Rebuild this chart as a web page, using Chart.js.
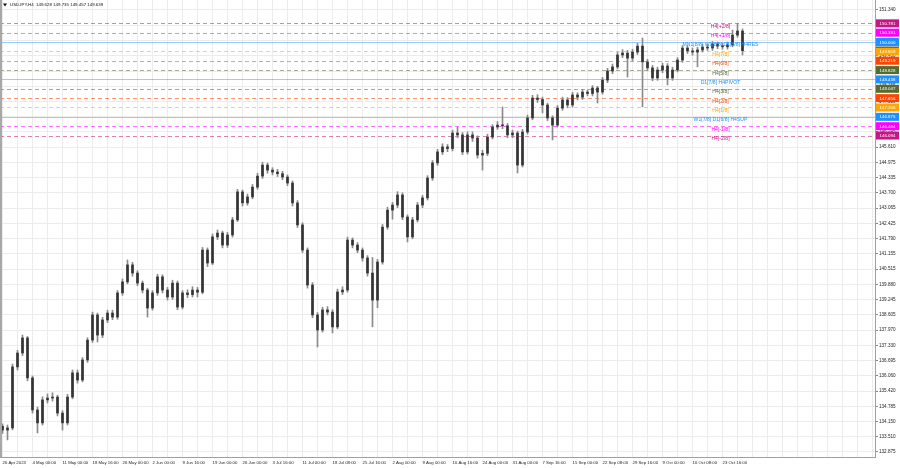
<!DOCTYPE html>
<html>
<head>
<meta charset="utf-8">
<script src="https://cdn.jsdelivr.net/npm/chart.js@4"></script>
<style>
html, body { margin: 0; padding: 0; background: #fff; }
canvas { display: block; }
</style>
</head>
<body>
<canvas id="chart" width="900" height="468"></canvas>
<script>
// USDJPY H4, 26 Apr - 27 Oct 2023 (one bar per ~5 px)
const symbol = "USDJPY,H4";
const lastBar = [149.628, 149.735, 149.457, 149.639];
const bidPrice = 149.639;

const opens = [
    133.95,133.79,133.88,136.43,137.01,137.64,135.97,134.63,134.09,135.05,
    135.13,135.17,134.50,134.09,135.17,136.18,135.88,136.72,137.55,138.60,
    137.76,138.39,138.68,138.51,139.52,139.98,140.69,140.35,139.93,139.64,
    138.89,139.52,140.19,139.64,139.35,139.93,138.93,139.52,139.45,139.64,
    139.55,141.31,140.77,141.86,142.02,141.52,141.94,142.57,143.74,143.28,
    143.53,143.94,144.40,144.86,144.65,144.57,144.50,144.36,144.11,143.28,
    142.36,141.31,139.85,138.60,137.97,138.81,138.72,138.10,139.56,139.64,
    141.73,141.52,141.31,140.98,140.35,139.22,140.81,142.27,142.98,143.19,
    143.61,142.69,141.86,142.57,143.19,143.49,144.32,144.95,145.41,145.62,
    145.55,146.20,146.12,145.41,146.12,145.99,145.28,145.35,146.03,146.45,
    146.53,146.50,146.12,146.20,144.86,146.24,146.83,147.66,147.60,147.37,
    146.83,146.53,147.24,147.58,147.37,147.79,147.70,147.91,147.85,148.08,
    147.91,148.41,148.79,148.96,149.46,149.54,149.33,149.58,149.83,149.17,
    148.92,148.50,148.83,149.00,148.50,148.83,149.25,149.75,149.63,149.58,
    149.67,149.79,149.75,149.92,149.83,149.80,149.88,150.29,150.46
];
const highs = [
    134.05,134.00,136.55,137.12,137.76,137.70,136.05,134.75,135.18,135.30,
    135.35,135.25,134.60,135.28,136.30,136.30,136.82,137.65,138.72,138.68,
    138.50,138.80,138.80,139.62,140.10,140.90,140.80,140.45,140.02,139.72,
    139.62,140.30,140.28,139.75,140.05,140.02,139.62,139.65,139.78,139.75,
    141.42,141.40,141.98,142.15,142.10,142.05,142.68,143.85,143.82,143.65,
    144.05,144.52,144.98,144.95,144.75,144.68,144.60,144.45,144.20,143.38,
    142.45,141.40,139.95,138.70,138.92,138.95,138.82,139.68,139.78,141.85,
    141.82,141.62,141.40,141.08,141.00,140.92,142.38,143.10,143.30,143.75,
    143.70,142.78,142.68,143.30,143.60,144.42,145.05,145.52,145.75,145.72,
    146.32,146.45,146.22,146.25,146.25,146.08,145.48,146.15,146.55,146.68,
    147.29,146.60,146.32,146.28,146.35,146.95,147.78,147.80,147.70,147.45,
    146.92,147.35,147.70,147.68,147.90,147.88,148.02,148.00,148.18,148.15,
    148.52,148.90,149.08,149.58,149.68,149.65,149.70,149.95,150.17,149.28,
    149.02,148.95,149.12,149.10,148.95,149.35,149.85,149.85,149.75,149.78,
    149.90,149.90,150.02,150.00,149.95,150.00,150.50,150.78,150.55
];
const lows = [
    133.65,133.38,133.80,136.30,136.90,135.85,134.50,133.67,134.00,134.92,
    135.00,134.38,133.79,134.00,135.10,135.75,135.80,136.62,137.45,137.47,
    137.65,138.28,138.40,138.42,139.42,139.90,140.22,139.82,139.52,138.51,
    138.80,139.42,139.52,139.22,139.25,138.82,138.85,139.32,139.35,139.35,
    139.48,140.62,140.70,141.75,141.40,141.42,141.85,142.50,143.15,143.18,
    143.45,143.85,144.30,144.52,144.45,144.38,144.25,144.00,143.15,142.25,
    141.20,139.72,138.48,137.26,137.88,138.60,137.85,138.02,139.45,139.55,
    141.40,141.20,140.85,140.22,138.10,138.90,140.72,142.18,142.60,143.08,
    142.58,141.65,141.78,142.48,143.08,143.40,144.22,144.85,145.30,145.42,
    145.45,146.00,145.30,145.32,145.85,145.15,144.65,145.25,145.95,146.35,
    146.38,146.00,146.00,144.53,144.78,146.15,146.75,147.48,147.04,146.72,
    145.91,146.45,147.15,147.25,147.28,147.58,147.60,147.75,147.75,147.45,
    147.82,148.30,148.68,148.88,149.35,148.54,149.22,149.48,147.29,148.80,
    148.38,148.40,148.72,148.21,148.40,148.75,149.15,149.52,149.45,148.96,
    149.58,149.65,149.65,149.72,149.70,149.70,149.80,150.20,149.46
];
const closes = [
    133.79,133.88,136.43,137.01,137.64,135.97,134.63,134.09,135.05,135.13,
    135.17,134.50,134.09,135.17,136.18,135.88,136.72,137.55,138.60,137.76,
    138.39,138.68,138.51,139.52,139.98,140.69,140.35,139.93,139.64,138.89,
    139.52,140.19,139.64,139.35,139.93,138.93,139.52,139.45,139.64,139.55,
    141.31,140.77,141.86,142.02,141.52,141.94,142.57,143.74,143.28,143.53,
    143.94,144.40,144.86,144.65,144.57,144.50,144.36,144.11,143.28,142.36,
    141.31,139.85,138.60,137.97,138.81,138.72,138.10,139.56,139.64,141.73,
    141.52,141.31,140.98,140.35,139.22,140.81,142.27,142.98,143.19,143.61,
    142.69,141.86,142.57,143.19,143.49,144.32,144.95,145.41,145.62,145.55,
    146.20,146.12,145.41,146.12,145.99,145.28,145.35,146.03,146.45,146.53,
    146.50,146.12,146.20,144.86,146.24,146.83,147.66,147.60,147.37,146.83,
    146.53,147.24,147.58,147.37,147.79,147.70,147.91,147.85,148.08,147.91,
    148.41,148.79,148.96,149.46,149.54,149.33,149.58,149.83,149.17,148.92,
    148.50,148.83,149.00,148.50,148.83,149.25,149.75,149.63,149.58,149.67,
    149.79,149.75,149.92,149.83,149.80,149.88,150.29,150.46,149.64
];

// time axis: one label every 6 bars, empty slots on the right (chart shift)
const tickLabels = [
    "26 Apr 2023", "4 May 00:00", "11 May 00:00", "18 May 16:00", "26 May 00:00",
    "2 Jun 00:00", "9 Jun 16:00", "19 Jun 00:00", "26 Jun 00:00", "3 Jul 16:00",
    "11 Jul 00:00", "18 Jul 08:00", "25 Jul 16:00", "2 Aug 00:00", "9 Aug 00:00",
    "16 Aug 16:00", "24 Aug 00:00", "31 Aug 00:00", "7 Sep 16:00", "15 Sep 00:00",
    "22 Sep 08:00", "29 Sep 16:00", "9 Oct 00:00", "16 Oct 08:00", "23 Oct 16:00"
];
const barsPerLabel = 6;
const slotCount = 175;

const priceTicks = [
    132.875, 133.510, 134.150, 134.785, 135.420, 136.060, 136.695, 137.330,
    137.970, 138.605, 139.245, 139.880, 140.515, 141.155, 141.790, 142.425,
    143.065, 143.700, 144.335, 144.975, 145.610, 146.245, 146.885, 147.520,
    148.155, 148.790, 149.430, 150.065, 150.700, 151.340
];
const priceMin = 132.666;
const priceMax = 151.756;

// Murrey levels
const levelValues = [150.781, 150.391, 150.000, 149.609, 149.219, 148.828, 148.438,
                     148.047, 147.656, 147.266, 146.875, 146.484, 146.094];
const levelNames = ["H4[+2/8]", "H4[+1/8]", "MN1[8/8] W1[8/8] D1[8/8] H4RES", "H4[7/8]",
                    "H4[6/8]", "H4[5/8]", "D1[7/8] H4PIVOT", "H4[3/8]", "H4[2/8]",
                    "H4[1/8]", "W1[7/8] D1[6/8] H4SUP", "H4[-1/8]", "H4[-2/8]"];
const levelColors = ["#c71585", "#ff00ff", "#1e90ff", "#ffa500", "#ff4500", "#556b2f", "#1e90ff",
                     "#556b2f", "#ff4500", "#ffa500", "#1e90ff", "#ff00ff", "#c71585"];
const levelSolid = [false, false, true, false, false, false, true, false, false, false, true, false, false];
const levelTextSlot = 143.6;

const FONT = "Liberation Sans, Arial, sans-serif";
Chart.defaults.font.family = FONT;

const labels = Array.from({ length: slotCount }, (_, i) =>
    i % barsPerLabel === 0 && tickLabels[i / barsPerLabel] ? tickLabels[i / barsPerLabel] : "");

function alpha(hex, a) {
    const n = parseInt(hex.slice(1), 16);
    return `rgba(${n >> 16},${(n >> 8) & 255},${n & 255},${a})`;
}

const levelsPlugin = {
    id: "levels",
    beforeDatasetsDraw(chart) {
        const { ctx, chartArea: a, scales: { y } } = chart;
        ctx.save();
        ctx.lineWidth = 1;
        levelValues.forEach((v, i) => {
            const py = Math.round(y.getPixelForValue(v)) + 0.5;
            ctx.strokeStyle = alpha(levelColors[i], levelSolid[i] ? 0.45 : 0.55);
            ctx.setLineDash(levelSolid[i] ? [] : [4, 3]);
            ctx.beginPath();
            ctx.moveTo(a.left, py);
            ctx.lineTo(a.right, py);
            ctx.stroke();
        });
        ctx.restore();
    },
    afterDatasetsDraw(chart) {
        const { ctx, scales: { x, y } } = chart;
        const tx = x.getPixelForValue(levelTextSlot);
        ctx.save();
        ctx.font = `5.1px ${FONT}`;
        ctx.textAlign = "center";
        ctx.textBaseline = "top";
        levelValues.forEach((v, i) => {
            ctx.fillStyle = levelColors[i];
            ctx.fillText(levelNames[i], tx, y.getPixelForValue(v) + 0.5);
        });
        ctx.restore();
    },
    afterDraw(chart) {
        const { ctx, chartArea: a, scales: { y } } = chart;
        ctx.save();
        // left frame
        ctx.fillStyle = "#a8a8a8";
        ctx.fillRect(a.left, a.top, 2, a.bottom - a.top);

        // price boxes on the right axis
        const box = (v, fill) => {
            const py = y.getPixelForValue(v);
            ctx.fillStyle = fill;
            ctx.fillRect(a.right + 1, py - 4, chart.width - a.right - 2, 8);
            ctx.fillStyle = "#fff";
            ctx.fillText(v.toFixed(3), (a.right + chart.width) / 2, py + 0.3);
        };
        ctx.font = `4.4px ${FONT}`;
        ctx.textAlign = "center";
        ctx.textBaseline = "middle";
        box(bidPrice, "#000");
        levelValues.forEach((v, i) => box(v, levelColors[i]));

        // symbol line
        ctx.fillStyle = "#111";
        ctx.beginPath();
        ctx.moveTo(3, 3.5);
        ctx.lineTo(7, 3.5);
        ctx.lineTo(5, 6.5);
        ctx.closePath();
        ctx.fill();
        ctx.font = `4.4px ${FONT}`;
        ctx.textAlign = "left";
        ctx.textBaseline = "middle";
        ctx.fillText(symbol + "  " + lastBar.map(v => v.toFixed(3)).join(" "), 10, 5);
        ctx.restore();
    }
};

new Chart(document.getElementById("chart"), {
    type: "bar",
    data: {
        labels,
        datasets: [{
            label: "wick",
            data: lows.map((l, i) => [l, highs[i]]),
            backgroundColor: "#8a8a8a",
            barThickness: 1,
            grouped: false,
            order: 2
        }, {
            label: "body",
            data: opens.map((o, i) => [o, closes[i]]),
            backgroundColor: "#333",
            barThickness: 2,
            minBarLength: 1,
            grouped: false,
            order: 1
        }]
    },
    options: {
        responsive: false,
        animation: false,
        events: [],
        layout: { padding: 0 },
        plugins: { legend: { display: false }, tooltip: { enabled: false } },
        scales: {
            x: {
                offset: true,
                grid: {
                    offset: false,
                    drawTicks: false,
                    color: c => c.index % 3 === 0 ? "#ececec" : "rgba(0,0,0,0)"
                },
                border: { color: "#a0a0a0" },
                ticks: {
                    autoSkip: false,
                    maxRotation: 0,
                    align: "start",
                    padding: 3,
                    color: "#222",
                    font: { size: 4.3 }
                },
                afterFit: s => { s.height = 11; s.paddingLeft = 0; s.paddingRight = 0; }
            },
            y: {
                position: "right",
                min: priceMin,
                max: priceMax,
                afterBuildTicks: s => { s.ticks = priceTicks.map(v => ({ value: v })); },
                grid: { color: "#ececec", tickColor: "#888", tickLength: 3 },
                border: { color: "#a0a0a0" },
                ticks: {
                    padding: 1,
                    color: "#222",
                    font: { size: 4.6 },
                    callback: v => v.toFixed(3)
                },
                afterFit: s => { s.width = 25; s.paddingTop = 0; s.paddingBottom = 0; }
            }
        }
    },
    plugins: [levelsPlugin]
});
</script>
</body>
</html>
